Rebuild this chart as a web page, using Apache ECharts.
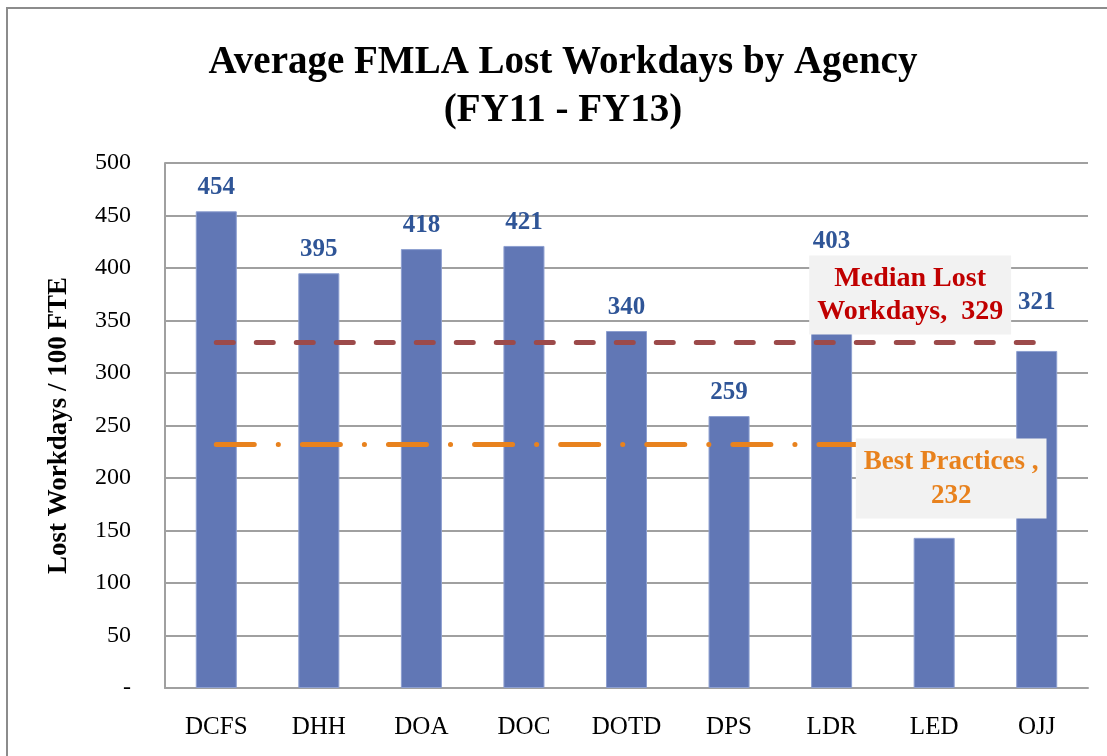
<!DOCTYPE html>
<html>
<head>
<meta charset="utf-8">
<script src="https://cdn.jsdelivr.net/npm/echarts@6/dist/echarts.min.js"></script>
<style>
  html, body { margin: 0; padding: 0; background: #fff; }
  #chart { width: 1107px; height: 756px; }
</style>
</head>
<body>
<div id="chart"></div>
<script>
// data
var agencies = ['DCFS', 'DHH', 'DOA', 'DOC', 'DOTD', 'DPS', 'LDR', 'LED', 'OJJ'];
var lostWorkdays = [454, 395, 418, 421, 340, 259, 403, 143, 321];
var medianValue = 329;
var bestPracticeValue = 232;
var yTicks = [0, 50, 100, 150, 200, 250, 300, 350, 400, 450, 500];

var serif = '"Liberation Serif", "DejaVu Serif", serif';

var medianLine = agencies.map(function () { return medianValue; });
var bestLine = agencies.map(function () { return bestPracticeValue; });

// the two annotation boxes hang off the LED point
var medianData = medianLine.map(function (v, i) {
  if (i !== 7) return v;
  return {
    value: v,
    label: {
      show: true,
      position: 'top',
      distance: 8,
      offset: [-24, 0],
      formatter: 'Median Lost\nWorkdays,  ' + medianValue,
      color: '#C00000',
      fontFamily: serif,
      fontWeight: 'bold',
      fontSize: 28,
      lineHeight: 33,
      align: 'center',
      backgroundColor: '#F2F2F2',
      padding: [7, 8, 6, 8]
    }
  };
});
var bestData = bestLine.map(function (v, i) {
  if (i !== 7) return v;
  return {
    value: v,
    label: {
      show: true,
      position: 'bottom',
      distance: -6,
      offset: [17, 0],
      formatter: 'Best Practices ,\n' + bestPracticeValue,
      color: '#E8821E',
      fontFamily: serif,
      fontWeight: 'bold',
      fontSize: 27,
      lineHeight: 34,
      align: 'center',
      backgroundColor: '#F2F2F2',
      padding: [7, 8, 5, 8]
    }
  };
});

// LED's value label is hidden under the box, OJJ's is lifted clear of the median line
var barData = lostWorkdays.map(function (v, i) {
  if (agencies[i] === 'LED') return { value: v, label: { show: false } };
  if (agencies[i] === 'OJJ') return { value: v, label: { distance: 36 } };
  return v;
});

var chart = echarts.init(document.getElementById('chart'));

var option = {
  backgroundColor: '#fff',
  animation: false,
  title: {
    text: 'Average FMLA Lost Workdays by Agency\n(FY11 - FY13)',
    left: 558,
    top: 34,
    textAlign: 'center',
    textStyle: {
      fontFamily: serif,
      fontWeight: 'bold',
      fontSize: 39,
      lineHeight: 48,
      color: '#000'
    }
  },
  graphic: [{
    type: 'rect',
    shape: { x: 7, y: 8, width: 1120, height: 800 },
    style: { fill: null, stroke: '#8C8C8C', lineWidth: 2 },
    silent: true
  }],
  grid: { left: 165, right: 19, top: 163, bottom: 68 },
  xAxis: {
    type: 'category',
    data: agencies,
    axisLine: { show: true, lineStyle: { color: '#A0A0A0', width: 2 } },
    axisTick: { show: false },
    axisLabel: {
      fontFamily: serif,
      fontSize: 25,
      color: '#000',
      margin: 27
    }
  },
  yAxis: {
    type: 'value',
    min: yTicks[0],
    max: yTicks[yTicks.length - 1],
    interval: 50,
    name: 'Lost Workdays / 100 FTE',
    nameLocation: 'middle',
    nameGap: 92,
    nameTextStyle: {
      fontFamily: serif,
      fontWeight: 'bold',
      fontSize: 27,
      color: '#000'
    },
    axisLine: { show: true, lineStyle: { color: '#A0A0A0', width: 2 } },
    axisTick: { show: false },
    splitLine: { lineStyle: { color: '#A0A0A0', width: 2 } },
    axisLabel: {
      fontFamily: serif,
      fontSize: 24,
      color: '#000',
      margin: 34,
      formatter: function (v) { return v === 0 ? '-' : String(v); }
    }
  },
  series: [{
    name: 'Lost Workdays',
    type: 'bar',
    data: barData,
    barWidth: '40%',
    itemStyle: { color: '#6177B5', borderColor: '#8D9FD0', borderWidth: 1 },
    label: {
      show: true,
      position: 'top',
      distance: 11,
      fontFamily: serif,
      fontWeight: 'bold',
      fontSize: 25,
      color: '#2F5597'
    },
    z: 2
  }, {
    name: 'Best Practices',
    type: 'line',
    data: bestData,
    symbol: 'circle',
    symbolSize: 0.01,
    showSymbol: true,
    itemStyle: { color: 'rgba(0,0,0,0)' },
    lineStyle: {
      color: '#E8821E',
      width: 5,
      type: [38, 24, 0.1, 24],
      cap: 'round'
    },
    label: { show: false },
    z: 3
  }, {
    name: 'Median Lost Workdays',
    type: 'line',
    data: medianData,
    symbol: 'circle',
    symbolSize: 0.01,
    showSymbol: true,
    itemStyle: { color: 'rgba(0,0,0,0)' },
    lineStyle: {
      color: '#9C4A4A',
      width: 5,
      type: [17, 23],
      cap: 'round'
    },
    label: { show: false },
    z: 3
  }]
};

chart.setOption(option);
</script>
</body>
</html>
